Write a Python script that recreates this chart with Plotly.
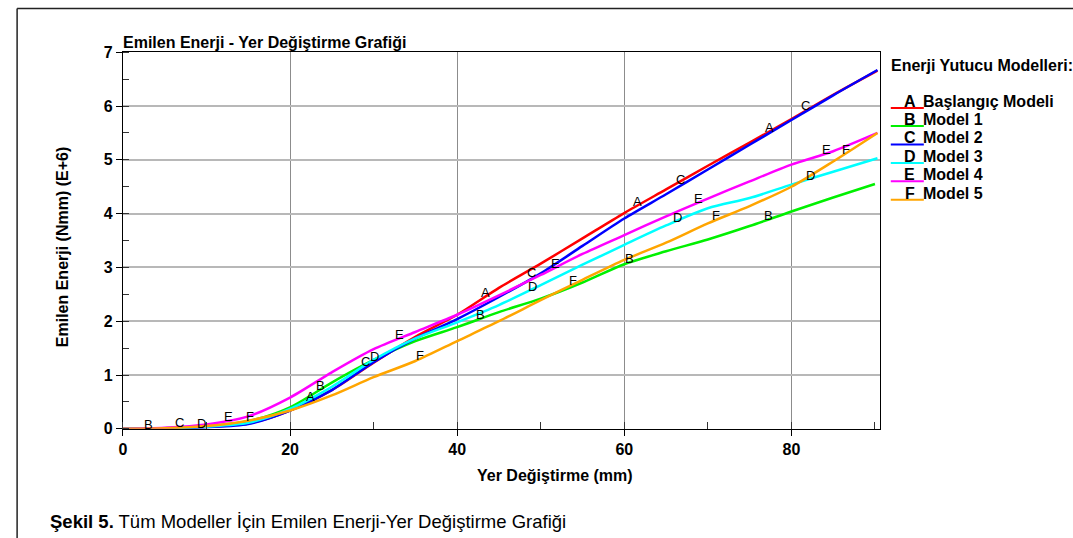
import numpy as np
import plotly.graph_objects as go

# ---------------- data ----------------
x_common = [0, 5, 10, 15, 20, 25, 30, 35, 40, 45, 50, 55, 60, 65, 70, 75, 80, 85, 90.3]
x_model1 = [0, 5, 10, 15, 20, 25, 30, 35, 40, 45, 50, 55, 60, 65, 70, 75, 80, 85, 90.0]

baslangic = [0, 0.01, 0.04, 0.10, 0.34, 0.72, 1.23, 1.71, 2.12, 2.62, 3.07, 3.54, 4.01, 4.45, 4.89, 5.32, 5.76, 6.21, 6.66]
model1 = [0, 0.01, 0.05, 0.14, 0.40, 0.86, 1.28, 1.63, 1.89, 2.17, 2.42, 2.72, 3.06, 3.30, 3.52, 3.77, 4.04, 4.30, 4.55]
model2 = [0, 0.005, 0.03, 0.09, 0.34, 0.72, 1.24, 1.68, 2.04, 2.45, 2.89, 3.40, 3.91, 4.36, 4.82, 5.28, 5.74, 6.20, 6.67]
model3 = [0, 0.01, 0.04, 0.11, 0.37, 0.78, 1.28, 1.68, 1.98, 2.30, 2.67, 3.05, 3.42, 3.78, 4.10, 4.29, 4.54, 4.78, 5.03]
model4 = [0, 0.02, 0.08, 0.23, 0.58, 1.05, 1.48, 1.80, 2.12, 2.48, 2.86, 3.25, 3.60, 3.95, 4.28, 4.60, 4.91, 5.16, 5.50]
model5 = [0, 0.01, 0.05, 0.15, 0.34, 0.62, 0.96, 1.26, 1.63, 2.00, 2.39, 2.77, 3.14, 3.46, 3.82, 4.14, 4.50, 4.97, 5.50]

letters = ["A", "B", "C", "D", "E", "F"]
names = ["Başlangıç Modeli", "Model 1", "Model 2", "Model 3", "Model 4", "Model 5"]
colors = ["#ff0000", "#00f000", "#0000ff", "#00ffff", "#ff00ff", "#ffa500"]

# x positions of the letter markers along each curve
label_x_A = [22.5, 43.4, 61.6, 77.4]
label_x_B = [3.1, 23.6, 42.8, 60.6, 77.2]
label_x_C = [6.8, 29.0, 48.9, 66.7, 81.7]
label_x_D = [9.4, 30.1, 49.0, 66.4, 82.3]
label_x_E = [12.6, 33.1, 51.8, 68.9, 84.2]
label_x_F = [15.2, 35.5, 53.9, 71.0, 86.5]

x_ticks = [0, 20, 40, 60, 80]
y_ticks = [0, 1, 2, 3, 4, 5, 6, 7]

title_text = "Emilen Enerji - Yer Değiştirme Grafiği"
x_title = "Yer Değiştirme (mm)"
y_title = "Emilen Enerji (Nmm) (E+6)"
legend_title = "Enerji Yutucu Modelleri:"
caption_bold = "Şekil 5."
caption_rest = " Tüm Modeller İçin Emilen Enerji-Yer Değiştirme Grafiği"

# ---------------- figure ----------------
W, H = 1073, 538
# observed mapping of page pixels onto the photograph (compensated here)
SX, OXP = 0.9955, 3.9
SY, OYP = 0.9645, 8.9


def px(x):
    return ((x - OXP) / SX) / W


def py(y):
    return 1 - ((y - OYP) / SY) / H


FONT = "Liberation Sans, Arial, sans-serif"

series_x = [x_common, x_model1, x_common, x_common, x_common, x_common]
series_y = [baslangic, model1, model2, model3, model4, model5]
label_xs = [label_x_A, label_x_B, label_x_C, label_x_D, label_x_E, label_x_F]
label_shift = {"A": 4, "B": 4, "C": 6, "D": 3, "E": 4, "F": 4}

fig = go.Figure()
for xs, ys, nm, col in zip(series_x, series_y, names, colors):
    fig.add_trace(go.Scatter(x=xs, y=ys, mode="lines", name=nm,
                             line=dict(color=col, width=2.5, shape="spline", smoothing=0.8),
                             showlegend=False, hoverinfo="x+y+name"))

annotations = []
for xs, ys, lxs, let in zip(series_x, series_y, label_xs, letters):
    for lx in lxs:
        ly = float(np.interp(lx, xs, ys))
        annotations.append(dict(x=lx, y=ly, xref="x", yref="y", text=let, showarrow=False,
                                font=dict(family=FONT, size=13, color="black"),
                                yshift=label_shift[let]))

# chart title
annotations.append(dict(x=px(121), y=py(43), xref="paper", yref="paper", text="<b>%s</b>" % title_text,
                        showarrow=False, xanchor="left", yanchor="middle",
                        font=dict(family=FONT, size=16, color="black")))
# axis titles
annotations.append(dict(x=px(554), y=py(475), xref="paper", yref="paper", text="<b>%s</b>" % x_title,
                        showarrow=False, xanchor="center", yanchor="middle",
                        font=dict(family=FONT, size=16, color="black")))
annotations.append(dict(x=px(62), y=py(247), xref="paper", yref="paper", text="<b>%s</b>" % y_title,
                        showarrow=False, xanchor="center", yanchor="middle", textangle=-90,
                        font=dict(family=FONT, size=16, color="black")))
# legend title
annotations.append(dict(x=px(888), y=py(66), xref="paper", yref="paper", text="<b>%s</b>" % legend_title,
                        showarrow=False, xanchor="left", yanchor="middle",
                        font=dict(family=FONT, size=16, color="black")))
shapes = []
row_y = [102, 120, 138.3, 156.7, 175, 193.3]
for let, nm, col, ry in zip(letters, names, colors, row_y):
    annotations.append(dict(x=px(909), y=py(ry), xref="paper", yref="paper", text="<b>%s</b>" % let,
                            showarrow=False, xanchor="center", yanchor="middle",
                            font=dict(family=FONT, size=16, color="black")))
    annotations.append(dict(x=px(920), y=py(ry), xref="paper", yref="paper", text="<b>%s</b>" % nm,
                            showarrow=False, xanchor="left", yanchor="middle",
                            font=dict(family=FONT, size=16, color="black")))
    shapes.append(dict(type="line", xref="paper", yref="paper", x0=px(890), x1=px(923),
                       y0=py(ry + 6.5), y1=py(ry + 6.5), line=dict(color=col, width=2)))

# caption
annotations.append(dict(x=px(48), y=py(520), xref="paper", yref="paper",
                        text="<b>%s</b>%s" % (caption_bold, caption_rest),
                        showarrow=False, xanchor="left", yanchor="middle",
                        font=dict(family="Liberation Sans Narrow, Arial Narrow, Liberation Sans, sans-serif",
                                  size=18.5, color="black")))

# outer frame
shapes.append(dict(type="line", xref="paper", yref="paper", x0=px(17), x1=1.05, y0=0.999, y1=0.999,
                   line=dict(color="#222", width=1.5)))
shapes.append(dict(type="line", xref="paper", yref="paper", x0=px(17), x1=px(17), y0=0.999, y1=-0.05,
                   line=dict(color="#222", width=1.5)))

fig.update_layout(
    width=W, height=H, autosize=False,
    margin=dict(l=0, r=0, t=0, b=0),
    paper_bgcolor="white", plot_bgcolor="white",
    font=dict(family=FONT, color="black"),
    annotations=annotations, shapes=shapes,
    showlegend=False,
    xaxis=dict(domain=[px(122.7), px(879.2)], range=[0, 90.6],
               tickvals=x_ticks, ticktext=["<b>%d</b>" % v for v in x_ticks],
               tickfont=dict(family=FONT, size=16, color="black"),
               ticks="outside", ticklen=6, tickcolor="black", tickwidth=1,
               showline=True, linecolor="black", linewidth=1, mirror=True,
               showgrid=True, gridcolor="#8c8c8c", gridwidth=1, zeroline=False,
               minor=dict(dtick=10, tick0=0, ticks="inside", ticklen=7, tickcolor="#333", showgrid=False)),
    yaxis=dict(domain=[py(428), py(53)], range=[0, 7],
               tickvals=y_ticks, ticktext=["<b>%d</b>" % v for v in y_ticks],
               tickfont=dict(family=FONT, size=16, color="black"),
               ticks="outside", ticklen=6, tickcolor="black", tickwidth=1,
               showline=True, linecolor="black", linewidth=1, mirror=True,
               showgrid=True, gridcolor="#b8b8b8", gridwidth=1.5, zeroline=False,
               minor=dict(dtick=0.5, tick0=0, ticks="inside", ticklen=6, tickcolor="#333", showgrid=False)),
)

fig.write_html("out.html", config={"displayModeBar": False},
               post_script="document.body.style.margin='0';document.body.style.overflow='hidden';")
